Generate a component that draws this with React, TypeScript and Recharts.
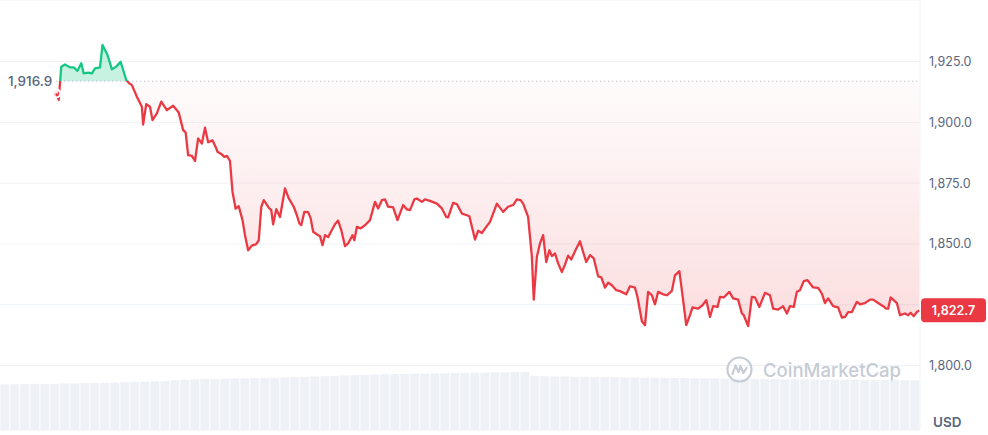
import React from "react";
import {
  Area,
  Bar,
  BarChart,
  CartesianGrid,
  ComposedChart,
  Line,
  ReferenceLine,
  XAxis,
  YAxis,
} from "recharts";

const GREEN = "#16c784";
const RED = "#ea3943";
const MUTED = "#58667e";
const BASELINE = 1916.9;
const X_MAX = 1472;

// minutes from the left edge of the window
const times = [
  90, 94, 98, 104, 112, 118, 124, 130, 134, 141, 147, 152, 160, 164, 172, 179,
  186, 193, 202, 207, 211, 219, 227, 229, 234, 240, 244, 251, 258, 267, 277,
  286, 293, 297, 301, 307, 312, 317, 323, 328, 333, 340, 345, 348, 355, 359,
  363, 368, 372, 377, 382, 388, 392, 397, 403, 410, 414, 418, 422, 430, 434,
  437, 442, 448, 456, 462, 470, 475, 479, 482, 487, 493, 497, 501, 508, 512,
  516, 520, 525, 531, 536, 541, 546, 552, 557, 564, 567, 571, 577, 584, 592,
  600, 605, 611, 616, 621, 629, 636, 645, 651, 656, 663, 667, 675, 680, 688,
  699, 707, 714, 717, 725, 731, 739, 747, 751, 760, 765, 771, 778, 784, 795,
  805, 813, 821, 827, 833, 837, 845, 851, 854, 859, 864, 869, 874, 879, 883,
  888, 893, 899, 904, 909, 914, 920, 928, 933, 938, 944, 950, 957, 962, 968,
  973, 979, 986, 992, 1002, 1008, 1016, 1020, 1027, 1032, 1037, 1043, 1048,
  1053, 1061, 1067, 1075, 1080, 1087, 1093, 1098, 1104, 1108, 1117, 1124, 1130,
  1136, 1141, 1148, 1152, 1158, 1167, 1173, 1181, 1187, 1190, 1197, 1203, 1208,
  1215, 1224, 1232, 1237, 1245, 1253, 1259, 1264, 1270, 1275, 1280, 1286, 1292,
  1301, 1309, 1315, 1320, 1325, 1333, 1341, 1347, 1352, 1357, 1363, 1371, 1376,
  1384, 1392, 1397, 1405, 1413, 1418, 1421, 1425, 1435, 1440, 1448, 1453, 1457,
  1462, 1467, 1471,
];

const prices = [
  1911.9, 1909.2, 1922.9, 1923.8, 1922.6, 1922.6, 1921.2, 1924.3, 1920.1,
  1920.4, 1920.1, 1922.2, 1922.6, 1931.8, 1927.7, 1921.8, 1922.9, 1924.9,
  1917.4, 1916.0, 1915.3, 1910.5, 1906.4, 1899.1, 1907.5, 1906.4, 1900.9,
  1903.7, 1908.5, 1905.0, 1906.8, 1904.0, 1896.8, 1895.9, 1886.5, 1886.2,
  1884.1, 1893.4, 1891.3, 1897.8, 1891.8, 1892.6, 1889.9, 1887.9, 1886.8,
  1885.8, 1886.2, 1884.1, 1871.4, 1864.5, 1865.5, 1859.8, 1853.6, 1847.4,
  1849.3, 1849.9, 1851.5, 1865.1, 1868.0, 1864.9, 1863.9, 1858.1, 1864.3,
  1861.1, 1872.8, 1868.7, 1865.3, 1861.8, 1858.4, 1857.7, 1863.2, 1863.1,
  1860.6, 1855.0, 1853.8, 1853.2, 1849.5, 1853.6, 1852.8, 1855.7, 1858.1,
  1859.6, 1855.7, 1849.1, 1850.2, 1853.6, 1851.5, 1857.0, 1856.4, 1857.7,
  1859.8, 1867.3, 1864.6, 1868.0, 1868.3, 1865.3, 1865.0, 1859.8, 1866.0,
  1864.2, 1863.9, 1868.3, 1868.7, 1867.3, 1868.3, 1867.7, 1866.6, 1864.6,
  1861.1, 1860.9, 1866.9, 1866.4, 1862.5, 1861.8, 1861.4, 1851.8, 1855.4,
  1854.5, 1857.0, 1859.1, 1866.6, 1863.2, 1865.3, 1866.0, 1868.3, 1868.0,
  1866.6, 1861.1, 1844.7, 1827.1, 1844.7, 1850.2, 1853.6, 1842.5, 1847.4,
  1845.0, 1846.1, 1842.0, 1838.4, 1841.5, 1845.2, 1843.6, 1847.0, 1851.1,
  1846.7, 1842.6, 1845.4, 1844.1, 1836.7, 1836.3, 1832.0, 1834.1, 1833.0,
  1831.0, 1830.6, 1829.3, 1832.6, 1832.0, 1828.2, 1818.2, 1816.6, 1830.3,
  1828.9, 1825.2, 1830.3, 1829.3, 1828.9, 1830.7, 1837.1, 1838.8, 1826.9,
  1816.6, 1820.7, 1823.9, 1823.4, 1824.8, 1826.9, 1820.0, 1824.4, 1824.1,
  1828.2, 1828.0, 1830.3, 1827.6, 1827.1, 1821.4, 1820.7, 1816.2, 1828.2,
  1828.0, 1824.1, 1829.9, 1828.9, 1823.4, 1823.0, 1824.4, 1821.4, 1824.4,
  1824.1, 1830.3, 1831.0, 1834.7, 1835.1, 1832.1, 1831.9, 1829.6, 1825.7,
  1827.6, 1824.4, 1823.9, 1819.7, 1820.0, 1822.0, 1822.0, 1826.2, 1825.2,
  1825.7, 1827.1, 1827.1, 1825.7, 1824.4, 1823.4, 1823.4, 1828.0, 1825.7,
  1820.7, 1821.4, 1820.7, 1821.7, 1820.3, 1822.0, 1822.7,
];

// rolling 24h volume, billions USD
const volumes = [
  7.2, 7.2, 7.2, 7.25, 7.2, 7.25, 7.3, 7.3, 7.35, 7.35,
  7.4, 7.45, 7.5, 7.55, 7.6, 7.65, 7.7, 7.8, 7.85, 7.95,
  8.0, 8.0, 8.05, 8.1, 8.1, 8.15, 8.2, 8.2, 8.25, 8.3,
  8.35, 8.4, 8.45, 8.5, 8.55, 8.6, 8.65, 8.7, 8.75, 8.8,
  8.8, 8.85, 8.85, 8.9, 8.9, 8.95, 8.95, 9.0, 9.0, 9.05,
  9.05, 9.1, 9.1,
  8.5, 8.45, 8.4, 8.4, 8.35, 8.35, 8.3,
  8.3, 8.3, 8.25, 8.25, 8.2, 8.2, 8.2, 8.15, 8.15, 8.1,
  8.1, 8.1, 8.05, 8.05, 8.0, 8.0, 8.0, 8.0, 7.95, 7.95,
  7.95, 7.95, 7.9, 7.9, 7.9, 7.9, 7.85, 7.85, 7.85, 7.85, 7.8, 7.8,
];

const yTicks = [1800, 1825, 1850, 1875, 1900, 1925];

const priceData = times.map((t, i) => ({ t, price: prices[i] }));
const volumeData = volumes.map((v, i) => ({ i, v }));

const maxP = Math.max(...prices);
const minP = Math.min(...prices);
const splitOffset = (maxP - BASELINE) / (maxP - minP);
const lastPrice = prices[prices.length - 1];

const fmt = (v: number) =>
  v.toLocaleString("en-US", { minimumFractionDigits: 1, maximumFractionDigits: 1 });

const W = 988;
const H = 435;
const FONT = "Inter, 'Noto Sans', sans-serif";

function PriceTick(props: any) {
  const { x, y, payload } = props;
  if (payload.value === 1825) return <g />;
  return (
    <text x={x} y={y} dy="0.35em" fill={MUTED} fontSize={12.5} fontFamily={FONT} textAnchor="start">
      {fmt(payload.value)}
    </text>
  );
}

function Watermark() {
  return (
    <div
      style={{
        position: "absolute",
        left: 726,
        top: 356,
        display: "flex",
        alignItems: "center",
        gap: 10,
        color: "#c6ccd6",
        fontFamily: FONT,
        fontSize: 18.5,
        fontWeight: 500,
        pointerEvents: "none",
      }}
    >
      <svg width={27} height={27} viewBox="0 0 27 27">
        <circle cx={13.5} cy={13.5} r={12} fill="none" stroke="#c6ccd6" strokeWidth={2.2} />
        <path
          d="M6.5 18 L9.5 9.5 L12.5 16 L14.5 10 L17.5 17 L20.5 12"
          fill="none"
          stroke="#c6ccd6"
          strokeWidth={2.2}
          strokeLinejoin="round"
          strokeLinecap="round"
        />
      </svg>
      <span>CoinMarketCap</span>
    </div>
  );
}

export default function App() {
  return (
    <div style={{ position: "relative", width: W, height: H, background: "#fff", fontFamily: FONT }}>
      <style>{"body{margin:0}"}</style>
      <div style={{ position: "absolute", left: 0, top: 0 }}>
        <BarChart width={W} height={H} data={volumeData} margin={{ top: 0, right: 68, left: 0, bottom: 5 }} barCategoryGap="3%">
          <XAxis dataKey="i" hide />
          <YAxis hide domain={[0, 67.5]} />
          <Bar dataKey="v" fill="#eef1f5" isAnimationActive={false} />
        </BarChart>
      </div>
      <div style={{ position: "absolute", left: 0, top: 0 }}>
        <ComposedChart width={W} height={H} data={priceData} margin={{ top: 0, right: 0, left: 0, bottom: 5 }}>
          <defs>
            <linearGradient id="lineSplit" x1="0" y1="0" x2="0" y2="1">
              <stop offset={0} stopColor={GREEN} />
              <stop offset={splitOffset} stopColor={GREEN} />
              <stop offset={splitOffset} stopColor={RED} />
              <stop offset={1} stopColor={RED} />
            </linearGradient>
            <linearGradient id="areaSplit" x1="0" y1="0" x2="0" y2="1">
              <stop offset={0} stopColor={GREEN} stopOpacity={0.4} />
              <stop offset={splitOffset} stopColor={GREEN} stopOpacity={0.4} />
              <stop offset={splitOffset} stopColor={RED} stopOpacity={0.03} />
              <stop offset={1} stopColor={RED} stopOpacity={0.28} />
            </linearGradient>
          </defs>
          <CartesianGrid vertical={false} stroke="#eff2f5" />
          <XAxis dataKey="t" type="number" domain={[0, X_MAX]} hide />
          <YAxis
            orientation="right"
            width={68}
            domain={[1773.5, 1950.3]}
            allowDataOverflow
            ticks={yTicks}
            tick={<PriceTick />}
            tickSize={0}
            tickMargin={9}
            axisLine={{ stroke: "#eff2f5" }}
            tickLine={false}
          />
          <Area
            type="linear"
            dataKey="price"
            baseValue={BASELINE}
            stroke="none"
            fill="url(#areaSplit)"
            isAnimationActive={false}
          />
          <ReferenceLine
            segment={[
              { x: times[0], y: BASELINE },
              { x: X_MAX, y: BASELINE },
            ]}
            stroke="#a7b1c2"
            strokeDasharray="1 3"
          />
          <ReferenceLine
            y={BASELINE}
            stroke="none"
            label={({ viewBox }: any) => (
              <text
                x={viewBox.x + 8}
                y={viewBox.y}
                dy="0.35em"
                fill={MUTED}
                fontSize={13.5}
                fontWeight={500}
                fontFamily={FONT}
              >
                {fmt(BASELINE)}
              </text>
            )}
          />
          <Line
            type="linear"
            dataKey="price"
            stroke="url(#lineSplit)"
            strokeWidth={2.3}
            strokeLinejoin="round"
            dot={false}
            activeDot={false}
            isAnimationActive={false}
          />
          <ReferenceLine
            y={lastPrice}
            stroke="none"
            label={({ viewBox }: any) => (
              <g>
                <rect x={viewBox.x + viewBox.width + 1} y={viewBox.y - 12} width={65} height={24} rx={4} fill={RED} />
                <text
                  x={viewBox.x + viewBox.width + 33.5}
                  y={viewBox.y}
                  dy="0.35em"
                  textAnchor="middle"
                  fill="#fff"
                  fontSize={12.5}
                  fontWeight={600}
                  fontFamily={FONT}
                >
                  {fmt(lastPrice)}
                </text>
              </g>
            )}
          />
        </ComposedChart>
      </div>
      <Watermark />
      <div
        style={{
          position: "absolute",
          left: 933,
          top: 414,
          color: MUTED,
          fontFamily: FONT,
          fontSize: 13.5,
          fontWeight: 600,
        }}
      >
        USD
      </div>
    </div>
  );
}
